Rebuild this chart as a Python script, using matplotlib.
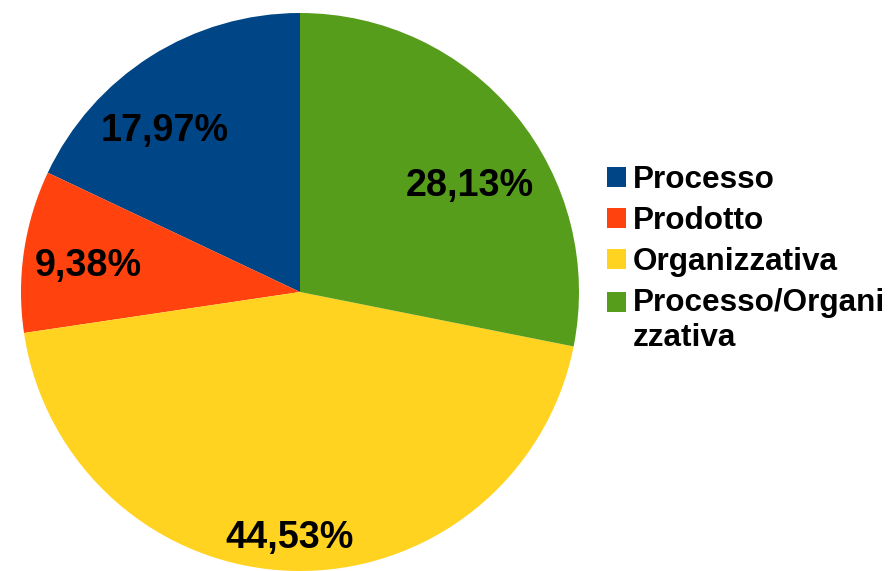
import numpy as np
import matplotlib.pyplot as plt
from matplotlib.patches import Rectangle
from matplotlib.legend_handler import HandlerPatch

plt.rcParams['font.family'] = ['Liberation Sans', 'DejaVu Sans']

# dati del grafico
categorie = ['Processo', 'Prodotto', 'Organizzativa', 'Processo/Organi\nzzativa']
percentuali = [17.97, 9.38, 44.53, 28.13]
colori = ['#004586', '#ff420e', '#ffd320', '#579d1c']

# posizione delle etichette (frazione del raggio, spostamento angolare in gradi)
dist_etichette = [0.753, 0.766, 0.882, 0.718]
shift_etichette = [7.7, 1.4, -1.0, -7.5]


class QuadratoInAlto(HandlerPatch):
    # quadratino allineato alla prima riga dell'etichetta
    def __init__(self, su=0.0):
        super().__init__()
        self.su = su

    def create_artists(self, legend, orig_handle, xdescent, ydescent,
                       width, height, fontsize, trans):
        r = Rectangle((-xdescent, -ydescent + self.su*fontsize), width, height,
                      facecolor=orig_handle.get_facecolor(), edgecolor='none',
                      transform=trans)
        return [r]


W, H = 894, 571
fig = plt.figure(figsize=(W/100, H/100), dpi=100)
R = 279
cx, cy = 300, 571 - 292
ax = fig.add_axes([(cx - R)/W, (cy - R)/H, 2*R/W, 2*R/H])

wedges, _ = ax.pie(percentuali, colors=colori, startangle=90, counterclock=True,
                   radius=1, wedgeprops=dict(linewidth=0))
ax.set_xlim(-1, 1)
ax.set_ylim(-1, 1)
ax.set_aspect('equal')
ax.axis('off')

for w, p, d, s in zip(wedges, percentuali, dist_etichette, shift_etichette):
    ang = np.deg2rad((w.theta1 + w.theta2)/2 + s)
    ax.text(d*np.cos(ang), d*np.sin(ang), ('%.2f%%' % p).replace('.', ','),
            ha='center', va='center', fontsize=27.2, fontweight='bold', color='black')

hmap = {w: QuadratoInAlto(0.0) for w in wedges[:3]}
hmap[wedges[3]] = QuadratoInAlto(0.6)
leg = fig.legend(wedges, categorie, loc='upper left', bbox_to_anchor=(607/W, 0.711),
                 frameon=False, prop={'weight': 'bold', 'size': 22.7},
                 handlelength=0.6, handleheight=0.6, handletextpad=0.22,
                 labelspacing=0.35, borderpad=0, borderaxespad=0, handler_map=hmap)

fig.savefig('out.png', dpi=100)
